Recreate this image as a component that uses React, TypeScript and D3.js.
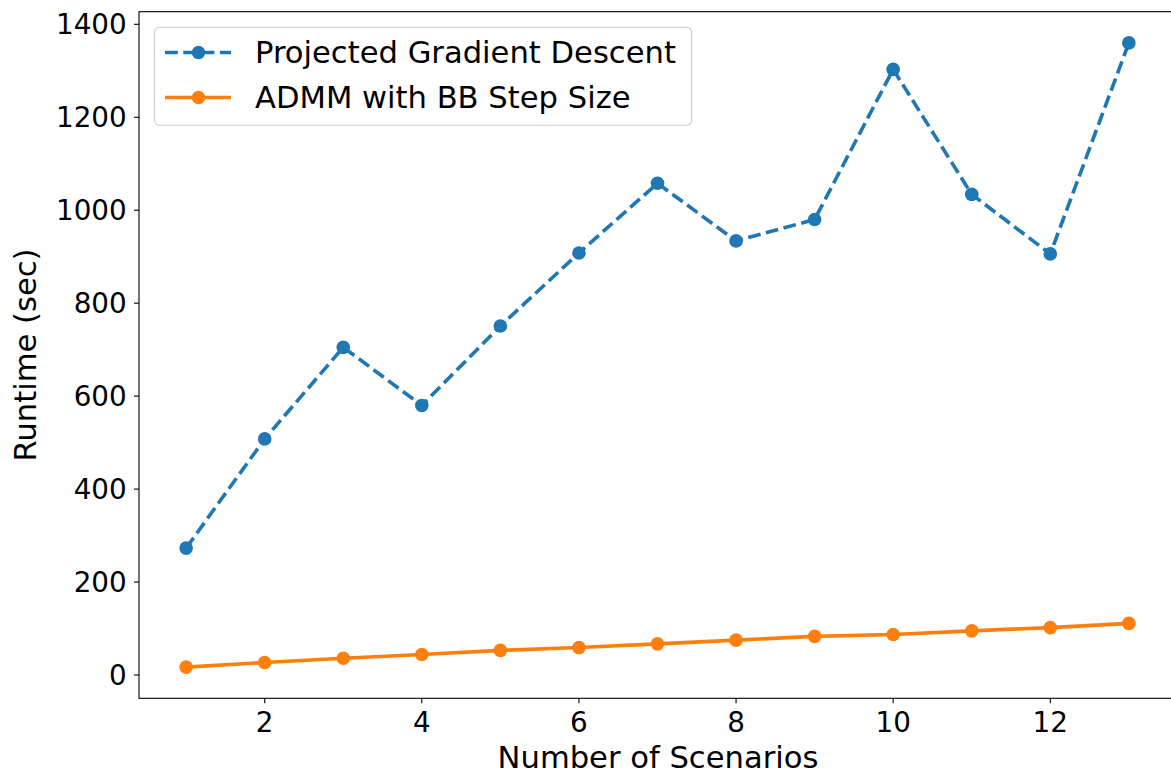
import React from "react";
import * as d3 from "d3";

const scenarios = [1, 2, 3, 4, 5, 6, 7, 8, 9, 10, 11, 12, 13];
const pgdRuntime = [273, 508, 705, 580, 751, 908, 1058, 934, 980, 1303, 1034, 906, 1360];
const admmRuntime = [17, 27, 36, 44, 53, 59, 67, 75, 83, 87, 95, 102, 111];
const xTicks = [2, 4, 6, 8, 10, 12];
const yTicks = [0, 200, 400, 600, 800, 1000, 1200, 1400];
const seriesNames = ["Projected Gradient Descent", "ADMM with BB Step Size"];
const seriesColors = ["#1f77b4", "#ff7f0e"];

const W = 1171;
const H = 775;
const left = 139;
const right = 1176;
const top = 11.7;
const bottom = 698.3;
const FONT = "'DejaVu Sans', sans-serif";
const TICK_FS = 27.8;
const LABEL_FS = 30.6;

export default function App() {
  const xMinD = d3.min(scenarios)!, xMaxD = d3.max(scenarios)!;
  const xPad = (xMaxD - xMinD) * 0.05;
  const x = d3.scaleLinear().domain([xMinD - xPad, xMaxD + xPad]).range([left, right]);
  const allY = [...pgdRuntime, ...admmRuntime];
  const yMinD = d3.min(allY)!, yMaxD = d3.max(allY)!;
  const yPad = (yMaxD - yMinD) * 0.05;
  const y = d3.scaleLinear().domain([yMinD - yPad, yMaxD + yPad]).range([bottom, top]);

  const line = d3
    .line<number>()
    .x((_, i) => x(scenarios[i]))
    .y((d) => y(d));

  const series = [pgdRuntime, admmRuntime];
  const dashes = ["12.8,5.5", null];

  return (
    <svg
      width={W}
      height={H}
      style={{ position: "absolute", left: 0, top: 0, background: "#fff", fontFamily: FONT }}
    >
      <rect x={0} y={0} width={W} height={H} fill="#fff" />
      {series.map((s, si) => (
        <g key={si}>
          <path
            d={line(s) || ""}
            fill="none"
            stroke={seriesColors[si]}
            strokeWidth={3.6}
            strokeDasharray={dashes[si] || undefined}
          />
          {s.map((v, i) => (
            <circle key={i} cx={x(scenarios[i])} cy={y(v)} r={6.8} fill={seriesColors[si]} />
          ))}
        </g>
      ))}
      <rect x={left} y={top} width={right - left} height={bottom - top} fill="none" stroke="#000" strokeWidth={1.1} />
      {xTicks.map((t) => (
        <g key={t} transform={`translate(${x(t)},${bottom})`}>
          <line y1={0} y2={5} stroke="#000" strokeWidth={1.1} />
          <text y={33.5} textAnchor="middle" fontSize={TICK_FS} fill="#000" style={{ fontFamily: FONT }}>
            {t}
          </text>
        </g>
      ))}
      {yTicks.map((t) => (
        <g key={t} transform={`translate(${left},${y(t)})`}>
          <line x1={0} x2={-5} stroke="#000" strokeWidth={1.1} />
          <text x={-12.3} dy="0.36em" textAnchor="end" fontSize={TICK_FS} fill="#000" style={{ fontFamily: FONT }}>
            {t}
          </text>
        </g>
      ))}
      <text x={658} y={768} textAnchor="middle" fontSize={LABEL_FS} fill="#000" style={{ fontFamily: FONT }}>
        Number of Scenarios
      </text>
      <text
        transform={`translate(36,${(top + bottom) / 2}) rotate(-90)`}
        textAnchor="middle"
        fontSize={LABEL_FS}
        fill="#000"
        style={{ fontFamily: FONT }}
      >
        Runtime (sec)
      </text>
      <rect x={154.5} y={27.3} width={537.2} height={98} rx={5} fill="#fff" fillOpacity={0.8} stroke="#cccccc" strokeWidth={1.1} />
      {seriesNames.map((name, i) => {
        const base = 63.3 + i * 45;
        const cy = base - 10.8;
        return (
          <g key={name}>
            <line
              x1={165}
              x2={231}
              y1={cy}
              y2={cy}
              stroke={seriesColors[i]}
              strokeWidth={3.6}
              strokeDasharray={dashes[i] || undefined}
            />
            <circle cx={198.5} cy={cy} r={6.8} fill={seriesColors[i]} />
            <text x={255} y={base} fontSize={LABEL_FS} fill="#000" style={{ fontFamily: FONT }}>
              {name}
            </text>
          </g>
        );
      })}
    </svg>
  );
}
